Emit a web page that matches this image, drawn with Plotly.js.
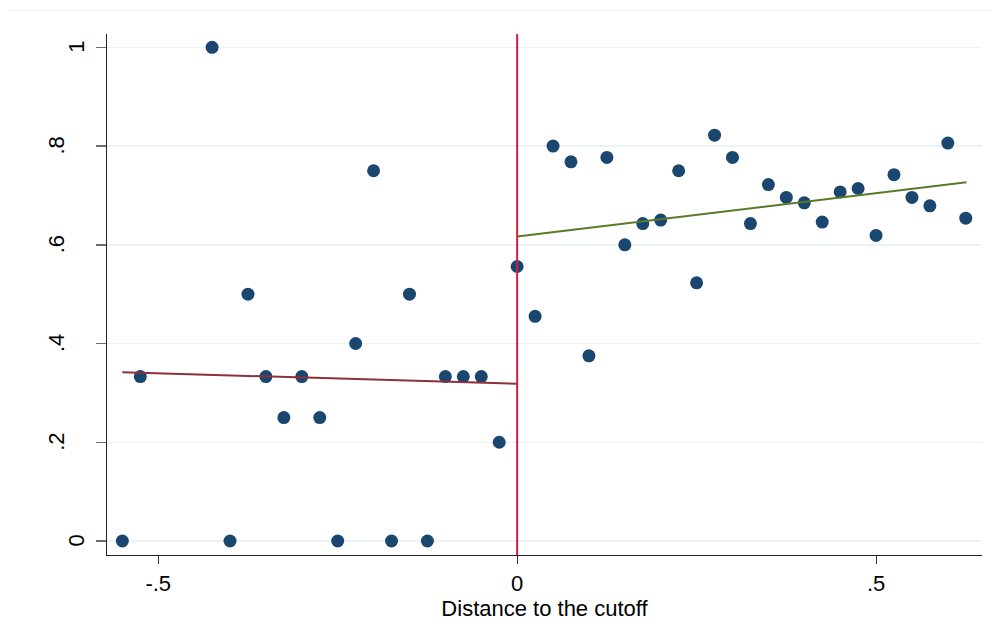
<!DOCTYPE html>
<html>
<head>
<meta charset="utf-8">
<script src="https://cdn.plot.ly/plotly-3.0.1.min.js"></script>
<style>html,body{margin:0;padding:0;background:#fff;}#chart{width:994px;height:632px;}</style>
</head>
<body>
<div id="chart"></div>
<script>
// Binned means, left of cutoff
const binXLeft = [-0.55, -0.525, -0.425, -0.4, -0.375, -0.35, -0.325, -0.3, -0.275, -0.25, -0.225, -0.2, -0.175, -0.15, -0.125, -0.1, -0.075, -0.05, -0.025];
const binYLeft = [0, 0.333, 1, 0, 0.5, 0.333, 0.25, 0.333, 0.25, 0, 0.4, 0.75, 0, 0.5, 0, 0.333, 0.333, 0.333, 0.2];
// Binned means, right of cutoff
const binXRight = [0, 0.025, 0.05, 0.075, 0.1, 0.125, 0.15, 0.175, 0.2, 0.225, 0.25, 0.275, 0.3, 0.325, 0.35, 0.375, 0.4, 0.425, 0.45, 0.475, 0.5, 0.525, 0.55, 0.575, 0.6, 0.625];
const binYRight = [0.556, 0.455, 0.8, 0.768, 0.375, 0.777, 0.6, 0.643, 0.65, 0.75, 0.523, 0.822, 0.777, 0.643, 0.722, 0.696, 0.685, 0.646, 0.707, 0.714, 0.619, 0.742, 0.696, 0.679, 0.806, 0.654];
// Linear fits
const fitXLeft = [-0.55, 0];
const fitYLeft = [0.3416, 0.3187];
const fitXRight = [0, 0.626];
const fitYRight = [0.617, 0.7265];
// Cutoff
const cutoffX = 0;
const xTicks = [-0.5, 0, 0.5];
const xTickText = ['-.5', '0', '.5'];
const yTicks = [0, 0.2, 0.4, 0.6, 0.8, 1];
const yTickText = ['0', '.2', '.4', '.6', '.8', '1'];
const xTitle = 'Distance to the cutoff';

const navy = '#1a476f';
const markerStyle = {color: navy, size: 13, symbol: 'circle', line: {width: 0}};

const traces = [
  {x: binXLeft, y: binYLeft, type: 'scatter', mode: 'markers', marker: markerStyle, hoverinfo: 'x+y'},
  {x: binXRight, y: binYRight, type: 'scatter', mode: 'markers', marker: markerStyle, hoverinfo: 'x+y'},
  {x: fitXLeft, y: fitYLeft, type: 'scatter', mode: 'lines', line: {color: '#8f2f3a', width: 2}},
  {x: fitXRight, y: fitYRight, type: 'scatter', mode: 'lines', line: {color: '#5a7a2a', width: 2}}
];

// Y tick labels drawn as rotated annotations (Stata-style placement)
const yLabelAnnotations = yTicks.map((v, i) => ({
  xref: 'paper', yref: 'y', x: 0, y: v,
  text: yTickText[i], textangle: -90, showarrow: false,
  xanchor: 'right', yanchor: 'middle',
  xshift: yTickText[i].length === 1 ? -16 : -36,
  font: {size: 22, color: '#000000'}
}));

const layout = {
  width: 994,
  height: 632,
  showlegend: false,
  paper_bgcolor: '#ffffff',
  plot_bgcolor: '#ffffff',
  margin: {l: 107, r: 12, t: 34, b: 77},
  font: {family: 'Liberation Sans, Arial, sans-serif', color: '#000000', size: 22},
  xaxis: {
    range: [-0.5714, 0.6476],
    tickvals: xTicks,
    ticktext: xTickText,
    ticks: 'outside',
    ticklen: 8,
    tickwidth: 1,
    tickcolor: '#333333',
    showline: true,
    linecolor: '#222222',
    linewidth: 1.3,
    showgrid: false,
    zeroline: false,
    tickfont: {size: 22},
    title: {text: xTitle, font: {size: 22}, standoff: 0}
  },
  yaxis: {
    range: [-0.0284, 1.027],
    tickvals: yTicks,
    showticklabels: false,
    ticks: 'outside',
    ticklen: 10,
    tickwidth: 1.5,
    tickcolor: '#6e6e6e',
    showline: true,
    linecolor: '#222222',
    linewidth: 1.3,
    showgrid: true,
    gridcolor: '#eaf2f3',
    gridwidth: 1.5,
    zeroline: false
  },
  annotations: yLabelAnnotations,
  shapes: [
    {type: 'line', xref: 'x', yref: 'paper', x0: cutoffX, x1: cutoffX, y0: 0, y1: 1,
     line: {color: '#cf1f45', width: 2}},
    {type: 'line', xref: 'paper', yref: 'paper', x0: -0.113, x1: 1.01, y0: 1.045, y1: 1.045,
     line: {color: '#eef3f4', width: 1}}
  ]
};

Plotly.newPlot('chart', traces, layout, {displayModeBar: false, staticPlot: true});
</script>
</body>
</html>
